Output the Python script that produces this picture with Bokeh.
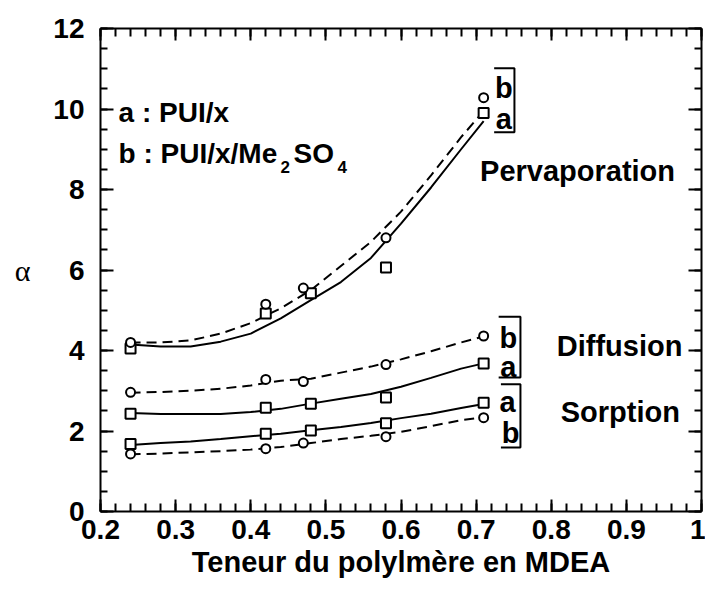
from bokeh.plotting import figure
from bokeh.models import (LinearAxis, SingleIntervalTicker, NumeralTickFormatter, Range1d,
                          CustomJSTickFormatter)
from bokeh.core.properties import value
from bokeh.embed import file_html
from bokeh.resources import INLINE

# ---- data ----
x_a = [0.24, 0.42, 0.48, 0.58, 0.71]          # squares (a : PUI/x)
x_b = [0.24, 0.42, 0.47, 0.58, 0.71]          # circles (b : PUI/x/Me2SO4)

perv_a = [4.05, 4.92, 5.42, 6.06, 9.9]
perv_b = [4.2, 5.15, 5.55, 6.8, 10.28]
diff_a = [2.43, 2.58, 2.68, 2.83, 3.68]
diff_b = [2.96, 3.28, 3.23, 3.65, 4.36]
sorp_a = [1.68, 1.93, 2.01, 2.19, 2.7]
sorp_b = [1.43, 1.56, 1.7, 1.86, 2.33]

# fitted curves, read at these abscissae
x_fit = [0.24, 0.28, 0.32, 0.36, 0.40, 0.44, 0.48, 0.52, 0.56, 0.60, 0.64, 0.68, 0.71]
perv_a_fit = [4.15, 4.1, 4.1, 4.22, 4.42, 4.8, 5.25, 5.7, 6.3, 7.15, 8.05, 9.0, 9.7]
perv_b_fit = [4.2, 4.2, 4.25, 4.42, 4.68, 5.05, 5.5, 6.1, 6.7, 7.45, 8.35, 9.3, 9.95]
diff_a_fit = [2.45, 2.42, 2.42, 2.42, 2.47, 2.55, 2.68, 2.8, 2.92, 3.1, 3.32, 3.55, 3.68]
diff_b_fit = [2.95, 2.97, 3.0, 3.05, 3.13, 3.25, 3.3, 3.45, 3.6, 3.78, 3.98, 4.2, 4.35]
sorp_a_fit = [1.65, 1.7, 1.74, 1.8, 1.87, 1.93, 2.02, 2.1, 2.2, 2.32, 2.43, 2.57, 2.67]
sorp_b_fit = [1.42, 1.44, 1.47, 1.5, 1.54, 1.6, 1.7, 1.8, 1.88, 1.98, 2.12, 2.27, 2.34]

x_title = "Teneur du polylmère en MDEA"
y_title = "α"

FONT = "Liberation Sans"

p = figure(frame_width=601, frame_height=483, x_range=Range1d(0.2, 1.0), y_range=Range1d(0, 12),
           output_backend="svg", toolbar_location=None,
           min_border_left=100, min_border_right=4, min_border_top=28, min_border_bottom=60)
p.xgrid.visible = False
p.ygrid.visible = False
p.outline_line_color = None
p.background_fill_color = "white"
p.border_fill_color = "white"


def style_axis(ax, show_labels, tin, tmin):
    ax.axis_line_width = 2
    ax.axis_line_color = "black"
    ax.major_tick_line_width = 2
    ax.minor_tick_line_width = 2
    ax.major_tick_line_color = "black"
    ax.minor_tick_line_color = "black"
    ax.major_tick_in = tin
    ax.major_tick_out = 0
    ax.minor_tick_in = tmin
    ax.minor_tick_out = 0
    ax.major_label_text_font = FONT
    ax.major_label_text_font_style = "bold"
    ax.major_label_text_color = "black"
    ax.major_label_text_font_size = "28px"
    if not show_labels:
        ax.formatter = CustomJSTickFormatter(code="return ''")
        ax.major_label_standoff = 0


xb = p.xaxis[0]
xb.ticker = SingleIntervalTicker(interval=0.1, num_minor_ticks=5)
xb.formatter = NumeralTickFormatter(format="0.[0]")
style_axis(xb, True, 12, 8)
xb.major_label_standoff = 8
xb.axis_label = x_title
xb.axis_label_text_font = FONT
xb.axis_label_text_font_style = "bold"
xb.axis_label_text_font_size = "29px"
xb.axis_label_text_color = "black"
xb.axis_label_standoff = 4

yl = p.yaxis[0]
yl.ticker = SingleIntervalTicker(interval=2, num_minor_ticks=4)
style_axis(yl, True, 13, 7)
yl.major_label_standoff = 16
yl.axis_label = y_title
yl.axis_label_text_font = "Liberation Serif"
yl.axis_label_text_font_style = "normal"
yl.axis_label_text_font_size = "30px"
yl.axis_label_text_color = "black"
yl.axis_label_standoff = 20
if hasattr(yl, "axis_label_orientation"):
    yl.axis_label_orientation = "horizontal"

xt = LinearAxis(ticker=SingleIntervalTicker(interval=0.1, num_minor_ticks=5))
style_axis(xt, False, 12, 8)
p.add_layout(xt, "above")
yr = LinearAxis(ticker=SingleIntervalTicker(interval=2, num_minor_ticks=4))
style_axis(yr, False, 13, 7)
p.add_layout(yr, "right")

# curves
for fit, dash in [(perv_a_fit, "solid"), (perv_b_fit, "10 6"), (diff_a_fit, "solid"),
                  (diff_b_fit, "10 6"), (sorp_a_fit, "solid"), (sorp_b_fit, "10 6")]:
    p.line(x_fit, fit, line_color="black", line_width=2, line_dash=dash)

# markers
for ys in [perv_a, diff_a, sorp_a]:
    p.scatter(x_a, ys, marker="square", size=10, line_color="black", line_width=2, fill_color="white")
for ys in [perv_b, diff_b, sorp_b]:
    p.scatter(x_b, ys, marker="circle", size=9, line_color="black", line_width=2, fill_color="white")

# brackets
br_x = [[0.724, 0.751, 0.751, 0.724], [0.730, 0.759, 0.759, 0.730], [0.733, 0.759, 0.759, 0.733]]
br_y = [[11.01, 11.01, 9.42, 9.42], [4.84, 4.84, 3.33, 3.33], [3.16, 3.16, 1.59, 1.59]]
p.multi_line(br_x, br_y, line_color="black", line_width=2)

# bracket letters
p.text(x=[0.737, 0.737, 0.743, 0.743, 0.742, 0.746],
       y=[10.53, 9.76, 4.32, 3.58, 2.73, 1.94],
       text=["b", "a", "b", "a", "a", "b"],
       text_font=value(FONT), text_font_style="bold", text_font_size="29px",
       text_align="center", text_baseline="middle", text_color="black")

# region titles
p.text(x=[0.835, 0.891, 0.892], y=[8.47, 4.12, 2.46],
       text=["Pervaporation", "Diffusion", "Sorption"],
       text_font=value(FONT), text_font_style="bold", text_font_size="29px",
       text_align="center", text_baseline="middle", text_color="black")

# legend text
p.text(x=[0.224, 0.224, 0.457], y=[9.91, 8.9, 8.9], text=["a : PUI/x", "b : PUI/x/Me", "SO"],
       text_font=value(FONT), text_font_style="bold", text_font_size="28px",
       text_align="left", text_baseline="middle", text_color="black")
p.text(x=[0.4396, 0.5155], y=[8.57, 8.57], text=["2", "4"],
       text_font=value(FONT), text_font_style="bold", text_font_size="17px",
       text_align="left", text_baseline="middle", text_color="black")

open("out.html", "w").write(file_html(p, INLINE))
